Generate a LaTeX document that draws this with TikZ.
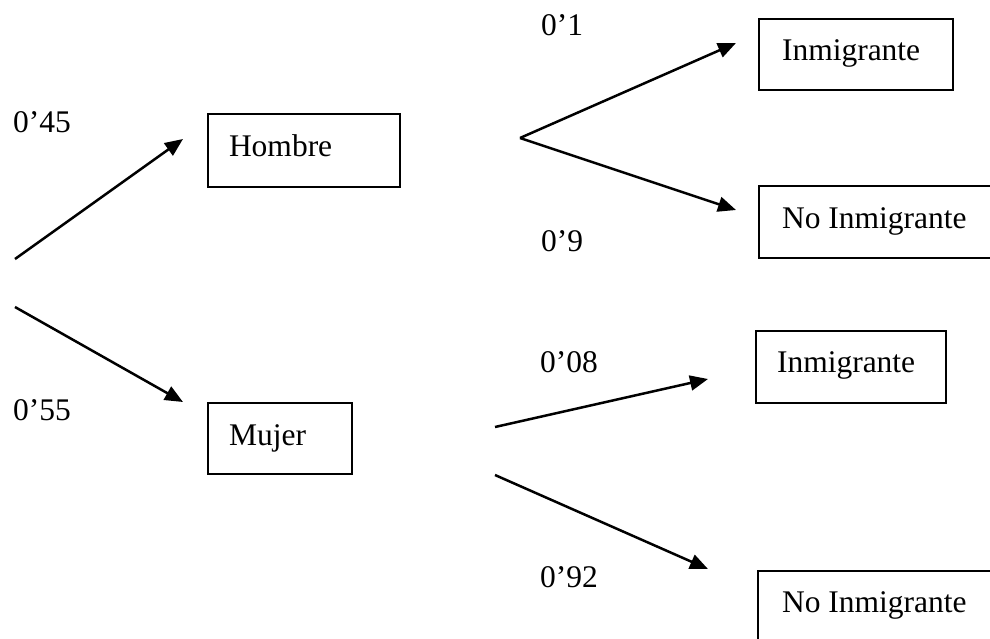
\documentclass[tikz,border=0pt]{standalone}
\usepackage{fontspec}
\setmainfont{Liberation Serif}
\usetikzlibrary{arrows.meta}
\tikzset{
  box/.style={draw, line width=1.7pt, inner ysep=0pt, inner xsep=0pt, align=left,
    font=\fontsize{31.5}{38}\selectfont, anchor=north west, outer sep=0pt},
  prob/.style={font=\fontsize{31.5}{38}\selectfont, anchor=base west, inner sep=0pt},
  arr/.style={line width=2.5pt, -{Triangle[length=18pt,width=15pt]}}
}
\begin{document}
\begin{tikzpicture}[x=1pt,y=-1pt]
\useasboundingbox (0,0) rectangle (990,638);
\clip (0,0) rectangle (990,638);
% boxes: left/top, width = left pad + text width + right pad
\node[box, text height=42pt, text depth=31pt] (hombre) at (208,114)
  {\hspace*{21pt}\makebox[171pt][l]{Hombre}};
\node[box, text height=42pt, text depth=29pt] (mujer) at (208,403)
  {\hspace*{21pt}\makebox[123pt][l]{Mujer}};
\node[box, text height=41pt, text depth=30pt] (inm1) at (759,19)
  {\hspace*{23pt}\makebox[171pt][l]{Inmigrante}};
\node[box, text height=42pt, text depth=30pt] (noinm1) at (759,186)
  {\hspace*{23pt}\makebox[240pt][l]{No Inmigrante}};
\node[box, text height=41pt, text depth=31pt] (inm2) at (756,331)
  {\hspace*{21pt}\makebox[169pt][l]{Inmigrante}};
\node[box, text height=41pt, text depth=40pt] (noinm2) at (758,571)
  {\hspace*{24pt}\makebox[240pt][l]{No Inmigrante}};
% probabilities
\node[prob] (p45) at (13,132) {0’45};
\node[prob] (p55) at (13,420) {0’55};
\node[prob] (p1) at (541,35) {0’1};
\node[prob] (p9) at (541,251) {0’9};
\node[prob] (p08) at (540,372) {0’08};
\node[prob] (p92) at (540,587) {0’92};
% branch points
\coordinate (r1) at (15,259);
\coordinate (r2) at (15,307);
\coordinate (e1) at (183,139);
\coordinate (e2) at (183,402);
\coordinate (h0) at (520,138);
\coordinate (h1) at (736,43);
\coordinate (h2) at (736,210);
\coordinate (m1) at (495,427);
\coordinate (m2) at (495,475);
\coordinate (f1) at (708,379);
\coordinate (f2) at (708,569);
\draw[arr] (r1) -- (e1);
\draw[arr] (r2) -- (e2);
\draw[arr] (h0) -- (h1);
\draw[arr] (h0) -- (h2);
\draw[arr] (m1) -- (f1);
\draw[arr] (m2) -- (f2);
\end{tikzpicture}
\end{document}
